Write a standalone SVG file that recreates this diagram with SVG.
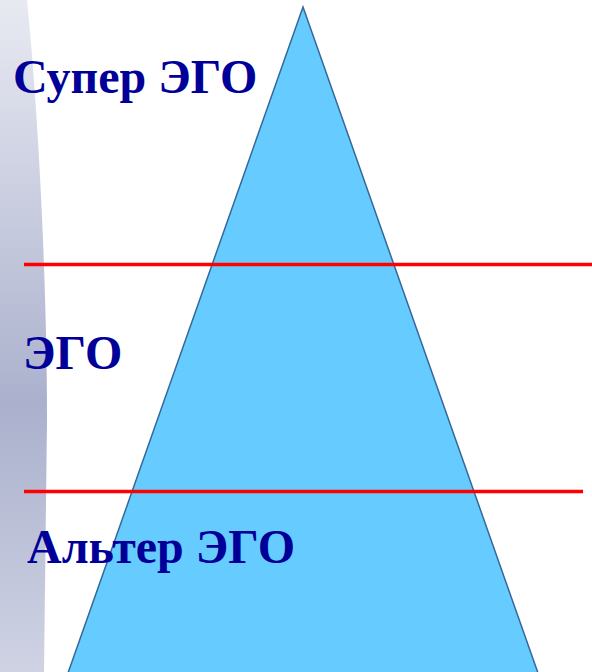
<svg xmlns="http://www.w3.org/2000/svg" width="592" height="672" viewBox="0 0 592 672">
<defs>
<linearGradient id="strip" x1="0" y1="0" x2="0" y2="1">
<stop offset="0" stop-color="#e8eaf2"/>
<stop offset="0.6" stop-color="#abb1cd"/>
<stop offset="1" stop-color="#cfd3e4"/>
</linearGradient>
</defs>
<style>
.lbl{font-family:"Liberation Serif","Times New Roman",serif;font-weight:bold;font-size:48px;fill:#000099}
.sep{stroke:#ff0000;stroke-width:3.5;fill:none}
</style>
<rect width="592" height="672" fill="#ffffff"/>
<path d="M0,0 L27,0 C38,110 47,280 47,420 L44,672 L0,672 Z" fill="url(#strip)"/>
<g id="pyramid">
<polygon points="303,7 68,673 538,673" fill="#66ccff" stroke="#35689a" stroke-width="1.5"/>
</g>
<g id="connectors">
<line class="sep" x1="24" y1="264.5" x2="592" y2="264.5"/>
<line class="sep" x1="24" y1="491.5" x2="583" y2="491.5"/>
</g>
<g id="superego"><text class="lbl" x="13" y="93">Супер ЭГО</text></g>
<g id="ego"><text class="lbl" x="23" y="369">ЭГО</text></g>
<g id="alterego"><text class="lbl" x="27" y="563">Альтер ЭГО</text></g>
</svg>
